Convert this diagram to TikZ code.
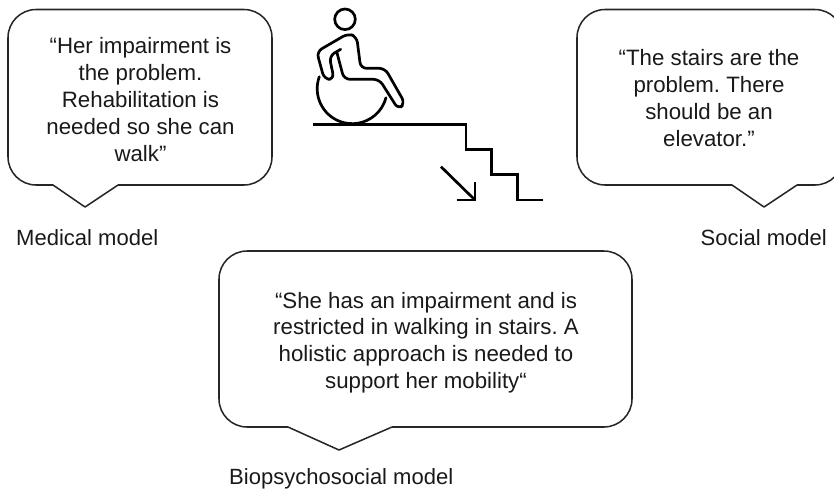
\documentclass[tikz,border=0pt]{standalone}
\usepackage{fontspec}
\setmainfont{Liberation Sans}
\frenchspacing

\begin{document}
\begin{tikzpicture} [x=0.03cm, y=0.03cm, yscale=-1,
 			      bubble/.style={line width=1.3pt, draw=black!85, line join=round, rounded corners=24pt},
 			      figure/.style={line width=2.3pt, line join=round, line cap=round, rounded corners=5pt},
 			      line/.style={line width=2.3pt, line join=miter},
 			      quote/.style={align=center, text=black!90, font=\fontsize{19}{22.9}\selectfont},
 			      caption/.style={text=black!90, inner sep=0pt, font=\fontsize{18.8}{22.9}\selectfont}]
    \useasboundingbox (0,0) rectangle (834,490);
    \clip (0,0) rectangle (834,490);
    % speech bubbles
    \draw[bubble]
    	    (53,185) -- (8,185) -- (8,9.5) -- (272,9.5) -- (272,185) -- (118,185)
	[sharp corners] (118,185) -- (85,207) -- (53,185);
    \draw[bubble]
    	    (732,185) -- (577,185) -- (577,9.5) -- (843,9.5) -- (843,185) -- (797,185)
	[sharp corners] (797,185) -- (764,207) -- (732,185);
    \draw[bubble]
    	    (288,427) -- (219,427) -- (219,251) -- (632,251) -- (632,427) -- (392,427)
	[sharp corners] (392,427) -- (339,450) -- (288,427);
    \node[quote] (medical) at (140.5,99.5) {“Her impairment is\\the problem.\\Rehabilitation is\\needed so she can\\walk”};
    \node[quote] (social) at (709,98) {“The stairs are the\\problem. There\\should be an\\elevator.”};
    \node[quote] (holistic) at (426,342.5) {“She has an impairment and is\\restricted in walking in stairs. A\\holistic approach is needed to\\support her mobility“};
    \node[caption, anchor=base west] (medicalname) at (16,245) {Medical model};
    \node[caption, anchor=base east] (socialname) at (827,245) {Social model};
    \node[caption, anchor=base west] (bioname) at (229,484) {Biopsychosocial model};
    % wheelchair user
    \draw[figure] (345,19.3) circle (10.3);
    \draw[figure]
    	    (340.7,49.3)
	-- (329.3,56)
	-- (334,79.3)
	-- (324.3,79.3)
	-- (316.7,51.7)
	-- (348,33.5)
	-- (356.7,36.7)
	-- (360.7,68.3)
	-- (385,68.3)
	-- (405,103.3)
	-- (398.3,109.3)
	-- (379.3,79.3)
	-- (344,79.3)
	-- (336.7,51.7);
    \draw[figure] (319.3,76.7) arc[start angle=200, end angle=15, radius=35];
    % stairs and direction
    \draw[line]
    	    (312.7,124.3)
	-- (466,124.3)
	-- (466,149.3)
	-- (491.7,149.3)
	-- (491.7,174.3)
	-- (517.3,174.3)
	-- (517.3,200)
	-- (542.7,200);
    \draw[line] (441,166.7) -- (475,200);
    \draw[line] (456.7,200) -- (475,200) -- (475,181.7);
\end{tikzpicture}
\end{document}
